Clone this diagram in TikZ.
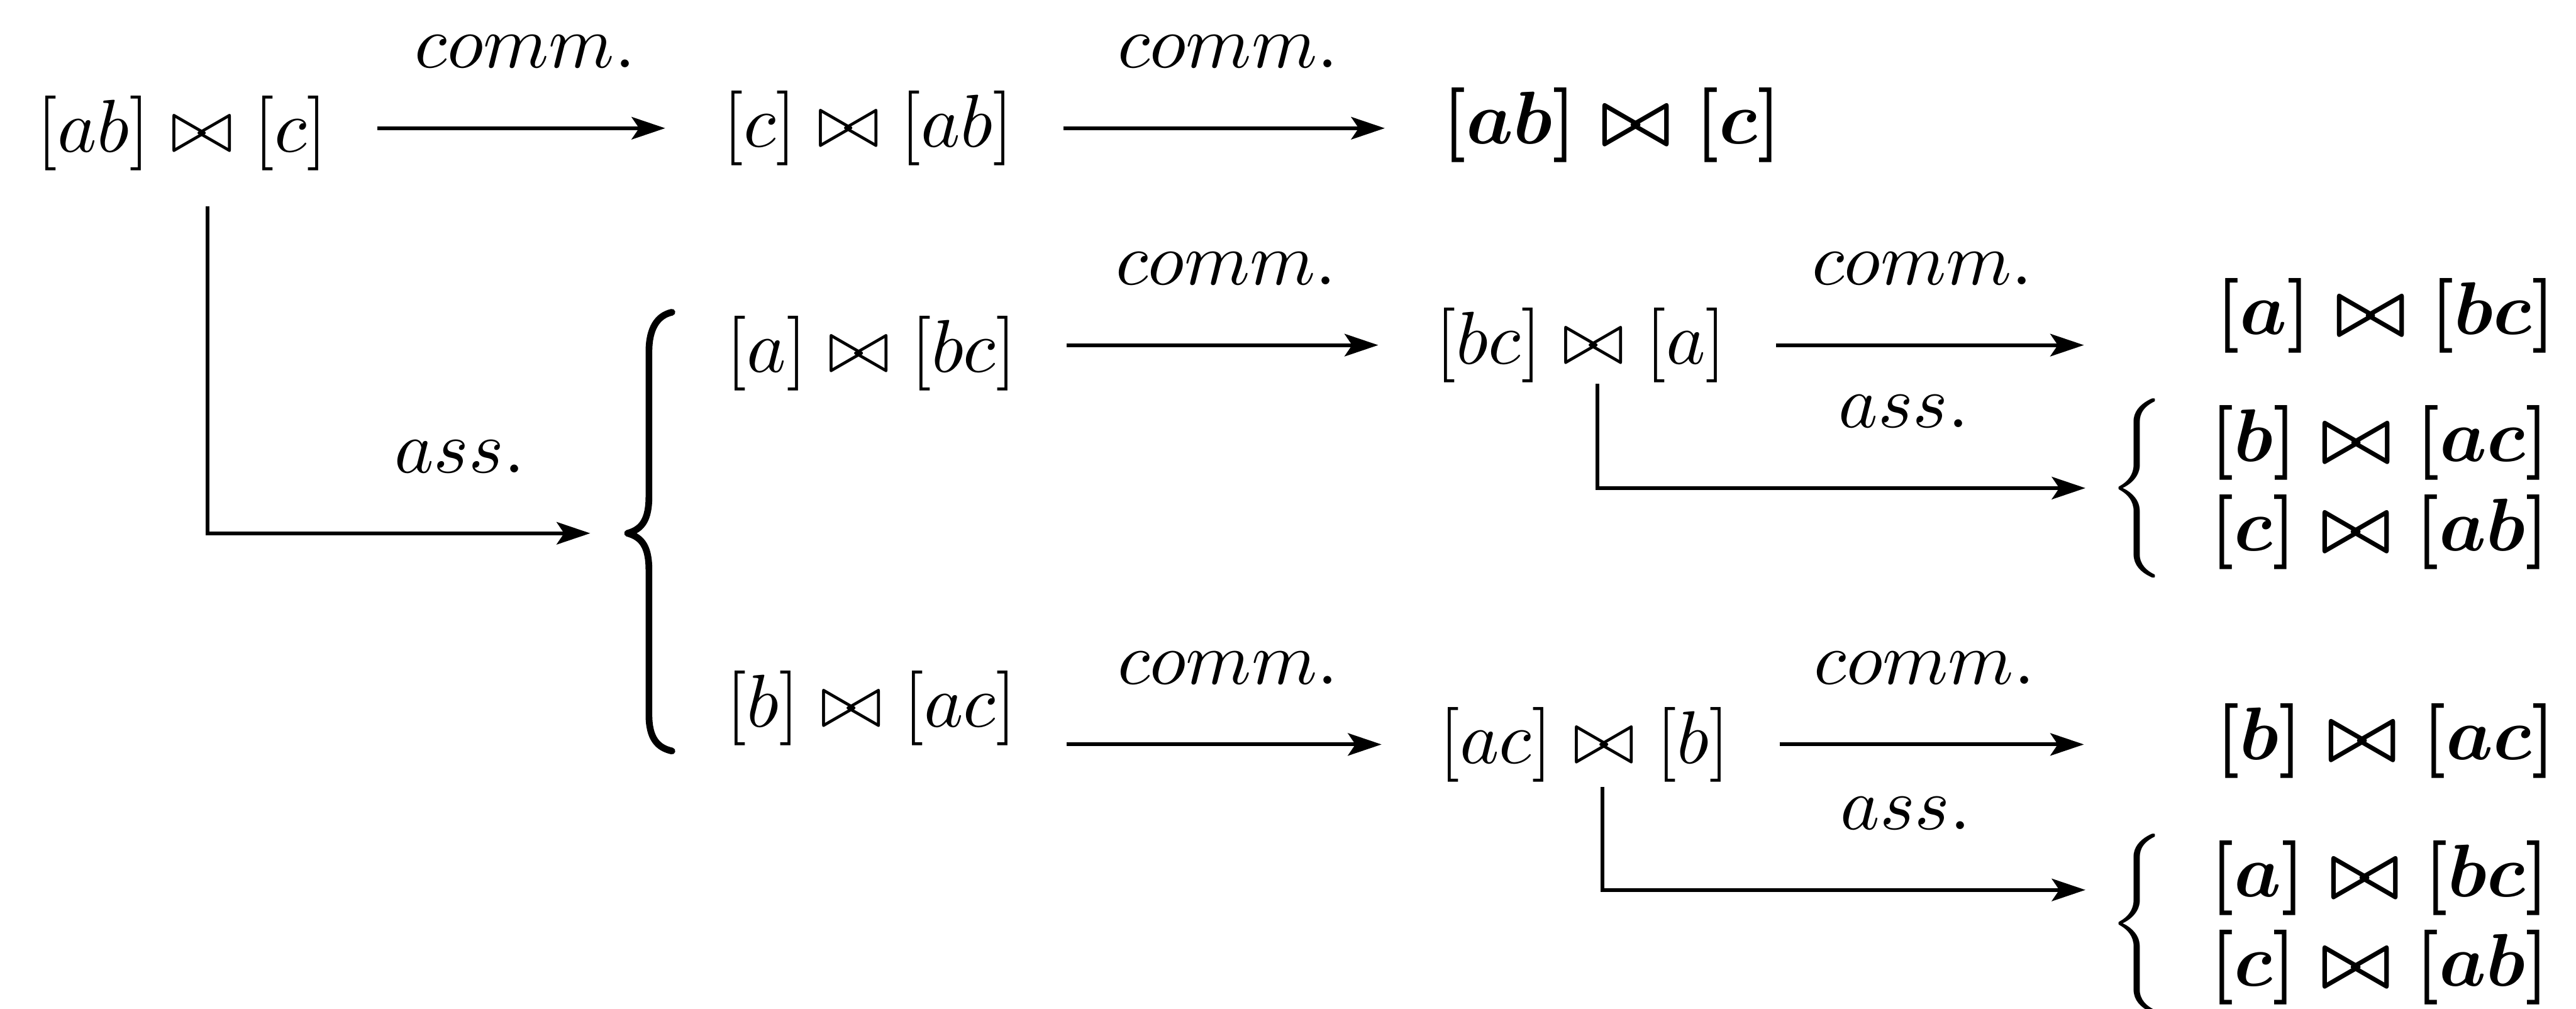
\documentclass[tikz,border=0pt]{standalone}
\usepackage{amsmath,amssymb}
\usepackage{tikz}
\usetikzlibrary{arrows.meta,positioning,calc}

\begin{document}
\begin{tikzpicture}[x=0.22pt,y=-0.22pt,
  >={Stealth[length=4.5pt,width=3pt,inset=1pt]},
  expr/.style={inner sep=0pt,anchor=west},
  res/.style={expr,font=\boldmath},
  comm/.style={->,line width=0.5pt,shorten <=6.5pt,shorten >=7.5pt},
  ass/.style={->,line width=0.5pt,shorten >=5pt},
  lbl/.style={above=4.5pt}]
  \useasboundingbox (0,0) rectangle (1568,614);
  % first row
  \node[expr] (s1) at (21.6,81) {$[ab]\bowtie[c]$};
  \node[expr] (s2) at (439,78) {$[c]\bowtie[ab]$};
  \node[res] (s3) at (877,76) {$[ab]\bowtie[c]$};
  % the two results of ass.
  \node[expr] (t1) at (441,215) {$[a]\bowtie[bc]$};
  \node[expr] (t2) at (873,210) {$[bc]\bowtie[a]$};
  \node[res] (t3) at (1348,192) {$[a]\bowtie[bc]$};
  \node[expr] (u1) at (441,431) {$[b]\bowtie[ac]$};
  \node[expr] (u2) at (875,453) {$[ac]\bowtie[b]$};
  \node[res] (u3) at (1348,451) {$[b]\bowtie[ac]$};
  % big brace, tip at bL
  \coordinate (bL) at (382,324.5);
  \draw[line width=0.9pt,line cap=round]
    (bL) .. controls (391,322) and (395,316) .. (395,302) -- (395,214)
         .. controls (395,200) and (400,192) .. (409,190)
    (bL) .. controls (391,327) and (395,333) .. (395,347) -- (395,435)
         .. controls (395,449) and (400,455) .. (409,457);
  % small braces
  \node[res] (br2) at (1283,297) {$\left\{\begin{array}{@{\hspace{6pt}}l}[b]\bowtie[ac]\\ {[c]}\bowtie[ab]\end{array}\right.$};
  \node[res] (br3) at (1283,562) {$\left\{\begin{array}{@{\hspace{6pt}}l}[a]\bowtie[bc]\\ {[c]}\bowtie[ab]\end{array}\right.$};
  % comm. arrows
  \draw[comm] (s2.west -| s1.east) -- (s2.west) node[lbl,midway] {$comm.$};
  \draw[comm] (s2.east) -- (s2.east -| s3.west) node[lbl,midway] {$comm.$};
  \draw[comm] (t2.west -| t1.east) -- (t2.west) node[lbl,midway] {$comm.$};
  \draw[comm,shorten >=17.5pt] (t2.east) -- (t2.east -| t3.west) node[lbl,pos=0.4] {$comm.$};
  \draw[comm] (u2.west -| u1.east) -- (u2.west) node[lbl,midway] {$comm.$};
  \draw[comm,shorten >=17.5pt] (u2.east) -- (u2.east -| u3.west) node[lbl,pos=0.4] {$comm.$};
  % ass. arrows
  \draw[ass] ([xshift=3.4pt,yshift=-4.6pt]s1.south) |- (bL) node[lbl,pos=0.8] {$ass.$};
  \draw[ass,shorten >=3pt] ([xshift=2.2pt]t2.south) |- (br2.west) node[lbl,pos=0.8] {$ass.$};
  \draw[ass,shorten >=3pt] ([xshift=2.4pt,yshift=-0.5pt]u2.south) |- ([yshift=4.5pt]br3.west) node[lbl,pos=0.8] {$ass.$};
\end{tikzpicture}
\end{document}
